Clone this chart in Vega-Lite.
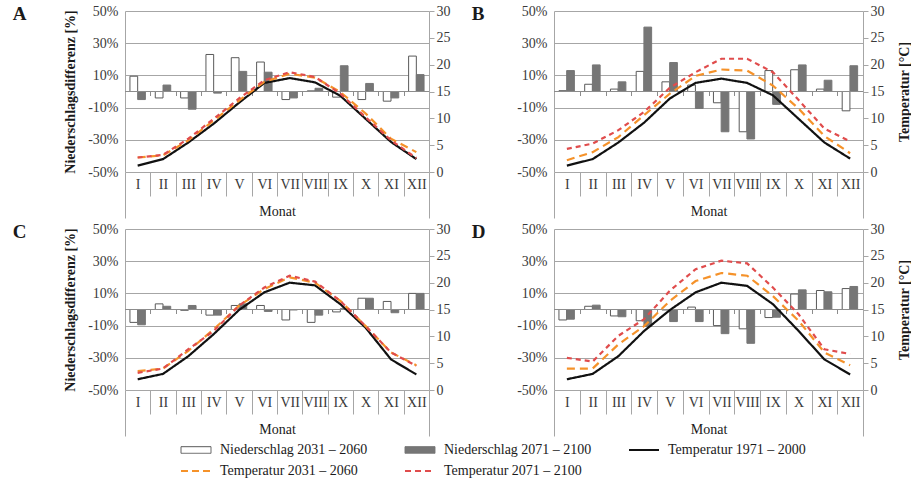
{
  "$schema": "https://vega.github.io/schema/vega-lite/v6.json",
  "padding": {"left": 12, "top": 4, "right": 0, "bottom": 0},
  "config": {
    "font": "Liberation Serif",
    "view": {"stroke": null},
    "axis": {"labelFont": "Liberation Serif", "titleFont": "Liberation Serif", "labelFontSize": 14, "titleFontSize": 14, "labelColor": "#3a3a3a", "titleColor": "#1a1a1a", "domainColor": "#a6a6a6", "gridColor": "#a6a6a6", "tickColor": "#a6a6a6"},
    "axisX": {"tickSize": {"expr": "datum.index === 1 || datum.index < 0 ? 46 : 24"}, "labelPadding": {"expr": "datum.index === 1 ? -41 : -19"}},
    "legend": {"symbolBaseFillColor": {"expr": "datum.value === 'Niederschlag 2031 – 2060' ? '#ffffff' : datum.value === 'Niederschlag 2071 – 2100' ? '#767676' : 'transparent'"}}
  },
  "datasets": {
    "precip": [
      {"panel":"A","month":"I","series":"Niederschlag 2031 – 2060","value":9.5},
      {"panel":"A","month":"II","series":"Niederschlag 2031 – 2060","value":-4},
      {"panel":"A","month":"III","series":"Niederschlag 2031 – 2060","value":-4},
      {"panel":"A","month":"IV","series":"Niederschlag 2031 – 2060","value":23},
      {"panel":"A","month":"V","series":"Niederschlag 2031 – 2060","value":21},
      {"panel":"A","month":"VI","series":"Niederschlag 2031 – 2060","value":18.3},
      {"panel":"A","month":"VII","series":"Niederschlag 2031 – 2060","value":-5},
      {"panel":"A","month":"VIII","series":"Niederschlag 2031 – 2060","value":0.4},
      {"panel":"A","month":"IX","series":"Niederschlag 2031 – 2060","value":-3.5},
      {"panel":"A","month":"X","series":"Niederschlag 2031 – 2060","value":-5},
      {"panel":"A","month":"XI","series":"Niederschlag 2031 – 2060","value":-6},
      {"panel":"A","month":"XII","series":"Niederschlag 2031 – 2060","value":22},
      {"panel":"A","month":"I","series":"Niederschlag 2071 – 2100","value":-5},
      {"panel":"A","month":"II","series":"Niederschlag 2071 – 2100","value":4},
      {"panel":"A","month":"III","series":"Niederschlag 2071 – 2100","value":-11},
      {"panel":"A","month":"IV","series":"Niederschlag 2071 – 2100","value":-1},
      {"panel":"A","month":"V","series":"Niederschlag 2071 – 2100","value":12.5},
      {"panel":"A","month":"VI","series":"Niederschlag 2071 – 2100","value":12},
      {"panel":"A","month":"VII","series":"Niederschlag 2071 – 2100","value":-4},
      {"panel":"A","month":"VIII","series":"Niederschlag 2071 – 2100","value":2},
      {"panel":"A","month":"IX","series":"Niederschlag 2071 – 2100","value":16},
      {"panel":"A","month":"X","series":"Niederschlag 2071 – 2100","value":5},
      {"panel":"A","month":"XI","series":"Niederschlag 2071 – 2100","value":-4},
      {"panel":"A","month":"XII","series":"Niederschlag 2071 – 2100","value":10.5},
      {"panel":"B","month":"I","series":"Niederschlag 2031 – 2060","value":0.5},
      {"panel":"B","month":"II","series":"Niederschlag 2031 – 2060","value":4.5},
      {"panel":"B","month":"III","series":"Niederschlag 2031 – 2060","value":1.5},
      {"panel":"B","month":"IV","series":"Niederschlag 2031 – 2060","value":12.5},
      {"panel":"B","month":"V","series":"Niederschlag 2031 – 2060","value":6},
      {"panel":"B","month":"VI","series":"Niederschlag 2031 – 2060","value":4},
      {"panel":"B","month":"VII","series":"Niederschlag 2031 – 2060","value":-7},
      {"panel":"B","month":"VIII","series":"Niederschlag 2031 – 2060","value":-25},
      {"panel":"B","month":"IX","series":"Niederschlag 2031 – 2060","value":13},
      {"panel":"B","month":"X","series":"Niederschlag 2031 – 2060","value":13.5},
      {"panel":"B","month":"XI","series":"Niederschlag 2031 – 2060","value":1.5},
      {"panel":"B","month":"XII","series":"Niederschlag 2031 – 2060","value":-12},
      {"panel":"B","month":"I","series":"Niederschlag 2071 – 2100","value":13},
      {"panel":"B","month":"II","series":"Niederschlag 2071 – 2100","value":16.5},
      {"panel":"B","month":"III","series":"Niederschlag 2071 – 2100","value":6},
      {"panel":"B","month":"IV","series":"Niederschlag 2071 – 2100","value":40},
      {"panel":"B","month":"V","series":"Niederschlag 2071 – 2100","value":18},
      {"panel":"B","month":"VI","series":"Niederschlag 2071 – 2100","value":-10.5},
      {"panel":"B","month":"VII","series":"Niederschlag 2071 – 2100","value":-25},
      {"panel":"B","month":"VIII","series":"Niederschlag 2071 – 2100","value":-29.5},
      {"panel":"B","month":"IX","series":"Niederschlag 2071 – 2100","value":-8},
      {"panel":"B","month":"X","series":"Niederschlag 2071 – 2100","value":16.5},
      {"panel":"B","month":"XI","series":"Niederschlag 2071 – 2100","value":7},
      {"panel":"B","month":"XII","series":"Niederschlag 2071 – 2100","value":16},
      {"panel":"C","month":"I","series":"Niederschlag 2031 – 2060","value":-8},
      {"panel":"C","month":"II","series":"Niederschlag 2031 – 2060","value":3.5},
      {"panel":"C","month":"III","series":"Niederschlag 2031 – 2060","value":-0.5},
      {"panel":"C","month":"IV","series":"Niederschlag 2031 – 2060","value":-3.5},
      {"panel":"C","month":"V","series":"Niederschlag 2031 – 2060","value":2.5},
      {"panel":"C","month":"VI","series":"Niederschlag 2031 – 2060","value":2.5},
      {"panel":"C","month":"VII","series":"Niederschlag 2031 – 2060","value":-6.5},
      {"panel":"C","month":"VIII","series":"Niederschlag 2031 – 2060","value":-8},
      {"panel":"C","month":"IX","series":"Niederschlag 2031 – 2060","value":-1.5},
      {"panel":"C","month":"X","series":"Niederschlag 2031 – 2060","value":7},
      {"panel":"C","month":"XI","series":"Niederschlag 2031 – 2060","value":5},
      {"panel":"C","month":"XII","series":"Niederschlag 2031 – 2060","value":10},
      {"panel":"C","month":"I","series":"Niederschlag 2071 – 2100","value":-9.5},
      {"panel":"C","month":"II","series":"Niederschlag 2071 – 2100","value":2},
      {"panel":"C","month":"III","series":"Niederschlag 2071 – 2100","value":2.5},
      {"panel":"C","month":"IV","series":"Niederschlag 2071 – 2100","value":-3.5},
      {"panel":"C","month":"V","series":"Niederschlag 2071 – 2100","value":3.5},
      {"panel":"C","month":"VI","series":"Niederschlag 2071 – 2100","value":-1.2},
      {"panel":"C","month":"VII","series":"Niederschlag 2071 – 2100","value":-0.3},
      {"panel":"C","month":"VIII","series":"Niederschlag 2071 – 2100","value":-3.5},
      {"panel":"C","month":"IX","series":"Niederschlag 2071 – 2100","value":0.5},
      {"panel":"C","month":"X","series":"Niederschlag 2071 – 2100","value":7},
      {"panel":"C","month":"XI","series":"Niederschlag 2071 – 2100","value":-2},
      {"panel":"C","month":"XII","series":"Niederschlag 2071 – 2100","value":10},
      {"panel":"D","month":"I","series":"Niederschlag 2031 – 2060","value":-6.5},
      {"panel":"D","month":"II","series":"Niederschlag 2031 – 2060","value":2},
      {"panel":"D","month":"III","series":"Niederschlag 2031 – 2060","value":-4},
      {"panel":"D","month":"IV","series":"Niederschlag 2031 – 2060","value":-7},
      {"panel":"D","month":"V","series":"Niederschlag 2031 – 2060","value":-0.3},
      {"panel":"D","month":"VI","series":"Niederschlag 2031 – 2060","value":1.5},
      {"panel":"D","month":"VII","series":"Niederschlag 2031 – 2060","value":-10},
      {"panel":"D","month":"VIII","series":"Niederschlag 2031 – 2060","value":-12},
      {"panel":"D","month":"IX","series":"Niederschlag 2031 – 2060","value":-5},
      {"panel":"D","month":"X","series":"Niederschlag 2031 – 2060","value":9.6},
      {"panel":"D","month":"XI","series":"Niederschlag 2031 – 2060","value":11.8},
      {"panel":"D","month":"XII","series":"Niederschlag 2031 – 2060","value":13},
      {"panel":"D","month":"I","series":"Niederschlag 2071 – 2100","value":-6},
      {"panel":"D","month":"II","series":"Niederschlag 2071 – 2100","value":2.7},
      {"panel":"D","month":"III","series":"Niederschlag 2071 – 2100","value":-4.5},
      {"panel":"D","month":"IV","series":"Niederschlag 2071 – 2100","value":-10.5},
      {"panel":"D","month":"V","series":"Niederschlag 2071 – 2100","value":-7.5},
      {"panel":"D","month":"VI","series":"Niederschlag 2071 – 2100","value":-7.5},
      {"panel":"D","month":"VII","series":"Niederschlag 2071 – 2100","value":-15},
      {"panel":"D","month":"VIII","series":"Niederschlag 2071 – 2100","value":-21},
      {"panel":"D","month":"IX","series":"Niederschlag 2071 – 2100","value":-4.8},
      {"panel":"D","month":"X","series":"Niederschlag 2071 – 2100","value":12.2},
      {"panel":"D","month":"XI","series":"Niederschlag 2071 – 2100","value":11},
      {"panel":"D","month":"XII","series":"Niederschlag 2071 – 2100","value":14.3}
    ],
    "temp": [
      {"panel":"A","series":"Temperatur 1971 – 2000","month":"I","temp":1.2},
      {"panel":"A","series":"Temperatur 1971 – 2000","month":"II","temp":2.4},
      {"panel":"A","series":"Temperatur 1971 – 2000","month":"III","temp":5.5},
      {"panel":"A","series":"Temperatur 1971 – 2000","month":"IV","temp":9.0},
      {"panel":"A","series":"Temperatur 1971 – 2000","month":"V","temp":12.9},
      {"panel":"A","series":"Temperatur 1971 – 2000","month":"VI","temp":16.6},
      {"panel":"A","series":"Temperatur 1971 – 2000","month":"VII","temp":17.5},
      {"panel":"A","series":"Temperatur 1971 – 2000","month":"VIII","temp":16.7},
      {"panel":"A","series":"Temperatur 1971 – 2000","month":"IX","temp":14.2},
      {"panel":"A","series":"Temperatur 1971 – 2000","month":"X","temp":9.9},
      {"panel":"A","series":"Temperatur 1971 – 2000","month":"XI","temp":5.6},
      {"panel":"A","series":"Temperatur 1971 – 2000","month":"XII","temp":2.4},
      {"panel":"A","series":"Temperatur 2031 – 2060","month":"I","temp":2.7},
      {"panel":"A","series":"Temperatur 2031 – 2060","month":"II","temp":3.1},
      {"panel":"A","series":"Temperatur 2031 – 2060","month":"III","temp":5.9},
      {"panel":"A","series":"Temperatur 2031 – 2060","month":"IV","temp":9.6},
      {"panel":"A","series":"Temperatur 2031 – 2060","month":"V","temp":13.3},
      {"panel":"A","series":"Temperatur 2031 – 2060","month":"VI","temp":16.8},
      {"panel":"A","series":"Temperatur 2031 – 2060","month":"VII","temp":18.3},
      {"panel":"A","series":"Temperatur 2031 – 2060","month":"VIII","temp":17.6},
      {"panel":"A","series":"Temperatur 2031 – 2060","month":"IX","temp":14.9},
      {"panel":"A","series":"Temperatur 2031 – 2060","month":"X","temp":10.9},
      {"panel":"A","series":"Temperatur 2031 – 2060","month":"XI","temp":6.2},
      {"panel":"A","series":"Temperatur 2031 – 2060","month":"XII","temp":3.7},
      {"panel":"A","series":"Temperatur 2071 – 2100","month":"I","temp":2.7},
      {"panel":"A","series":"Temperatur 2071 – 2100","month":"II","temp":3.2},
      {"panel":"A","series":"Temperatur 2071 – 2100","month":"III","temp":6.2},
      {"panel":"A","series":"Temperatur 2071 – 2100","month":"IV","temp":9.9},
      {"panel":"A","series":"Temperatur 2071 – 2100","month":"V","temp":13.7},
      {"panel":"A","series":"Temperatur 2071 – 2100","month":"VI","temp":17.1},
      {"panel":"A","series":"Temperatur 2071 – 2100","month":"VII","temp":18.6},
      {"panel":"A","series":"Temperatur 2071 – 2100","month":"VIII","temp":17.7},
      {"panel":"A","series":"Temperatur 2071 – 2100","month":"IX","temp":14.6},
      {"panel":"A","series":"Temperatur 2071 – 2100","month":"X","temp":10.2},
      {"panel":"A","series":"Temperatur 2071 – 2100","month":"XI","temp":5.9},
      {"panel":"A","series":"Temperatur 2071 – 2100","month":"XII","temp":2.6},
      {"panel":"B","series":"Temperatur 1971 – 2000","month":"I","temp":1.2},
      {"panel":"B","series":"Temperatur 1971 – 2000","month":"II","temp":2.4},
      {"panel":"B","series":"Temperatur 1971 – 2000","month":"III","temp":5.5},
      {"panel":"B","series":"Temperatur 1971 – 2000","month":"IV","temp":9.2},
      {"panel":"B","series":"Temperatur 1971 – 2000","month":"V","temp":13.7},
      {"panel":"B","series":"Temperatur 1971 – 2000","month":"VI","temp":16.6},
      {"panel":"B","series":"Temperatur 1971 – 2000","month":"VII","temp":17.4},
      {"panel":"B","series":"Temperatur 1971 – 2000","month":"VIII","temp":16.6},
      {"panel":"B","series":"Temperatur 1971 – 2000","month":"IX","temp":14.3},
      {"panel":"B","series":"Temperatur 1971 – 2000","month":"X","temp":9.9},
      {"panel":"B","series":"Temperatur 1971 – 2000","month":"XI","temp":5.5},
      {"panel":"B","series":"Temperatur 1971 – 2000","month":"XII","temp":2.5},
      {"panel":"B","series":"Temperatur 2031 – 2060","month":"I","temp":2.2},
      {"panel":"B","series":"Temperatur 2031 – 2060","month":"II","temp":3.7},
      {"panel":"B","series":"Temperatur 2031 – 2060","month":"III","temp":6.5},
      {"panel":"B","series":"Temperatur 2031 – 2060","month":"IV","temp":10.6},
      {"panel":"B","series":"Temperatur 2031 – 2060","month":"V","temp":14.6},
      {"panel":"B","series":"Temperatur 2031 – 2060","month":"VI","temp":17.9},
      {"panel":"B","series":"Temperatur 2031 – 2060","month":"VII","temp":19.1},
      {"panel":"B","series":"Temperatur 2031 – 2060","month":"VIII","temp":18.9},
      {"panel":"B","series":"Temperatur 2031 – 2060","month":"IX","temp":16.1},
      {"panel":"B","series":"Temperatur 2031 – 2060","month":"X","temp":11.8},
      {"panel":"B","series":"Temperatur 2031 – 2060","month":"XI","temp":6.7},
      {"panel":"B","series":"Temperatur 2031 – 2060","month":"XII","temp":3.5},
      {"panel":"B","series":"Temperatur 2071 – 2100","month":"I","temp":4.3},
      {"panel":"B","series":"Temperatur 2071 – 2100","month":"II","temp":5.3},
      {"panel":"B","series":"Temperatur 2071 – 2100","month":"III","temp":7.8},
      {"panel":"B","series":"Temperatur 2071 – 2100","month":"IV","temp":11.2},
      {"panel":"B","series":"Temperatur 2071 – 2100","month":"V","temp":15.7},
      {"panel":"B","series":"Temperatur 2071 – 2100","month":"VI","temp":18.6},
      {"panel":"B","series":"Temperatur 2071 – 2100","month":"VII","temp":21.1},
      {"panel":"B","series":"Temperatur 2071 – 2100","month":"VIII","temp":21.1},
      {"panel":"B","series":"Temperatur 2071 – 2100","month":"IX","temp":18.6},
      {"panel":"B","series":"Temperatur 2071 – 2100","month":"X","temp":13.4},
      {"panel":"B","series":"Temperatur 2071 – 2100","month":"XI","temp":8.1},
      {"panel":"B","series":"Temperatur 2071 – 2100","month":"XII","temp":5.7},
      {"panel":"C","series":"Temperatur 1971 – 2000","month":"I","temp":2.0},
      {"panel":"C","series":"Temperatur 1971 – 2000","month":"II","temp":3.0},
      {"panel":"C","series":"Temperatur 1971 – 2000","month":"III","temp":6.3},
      {"panel":"C","series":"Temperatur 1971 – 2000","month":"IV","temp":10.4},
      {"panel":"C","series":"Temperatur 1971 – 2000","month":"V","temp":14.9},
      {"panel":"C","series":"Temperatur 1971 – 2000","month":"VI","temp":18.2},
      {"panel":"C","series":"Temperatur 1971 – 2000","month":"VII","temp":20.0},
      {"panel":"C","series":"Temperatur 1971 – 2000","month":"VIII","temp":19.5},
      {"panel":"C","series":"Temperatur 1971 – 2000","month":"IX","temp":16.0},
      {"panel":"C","series":"Temperatur 1971 – 2000","month":"X","temp":11.6},
      {"panel":"C","series":"Temperatur 1971 – 2000","month":"XI","temp":5.7},
      {"panel":"C","series":"Temperatur 1971 – 2000","month":"XII","temp":2.9},
      {"panel":"C","series":"Temperatur 2031 – 2060","month":"I","temp":3.5},
      {"panel":"C","series":"Temperatur 2031 – 2060","month":"II","temp":4.0},
      {"panel":"C","series":"Temperatur 2031 – 2060","month":"III","temp":7.3},
      {"panel":"C","series":"Temperatur 2031 – 2060","month":"IV","temp":11.3},
      {"panel":"C","series":"Temperatur 2031 – 2060","month":"V","temp":15.7},
      {"panel":"C","series":"Temperatur 2031 – 2060","month":"VI","temp":18.8},
      {"panel":"C","series":"Temperatur 2031 – 2060","month":"VII","temp":21.0},
      {"panel":"C","series":"Temperatur 2031 – 2060","month":"VIII","temp":20.0},
      {"panel":"C","series":"Temperatur 2031 – 2060","month":"IX","temp":16.6},
      {"panel":"C","series":"Temperatur 2031 – 2060","month":"X","temp":11.9},
      {"panel":"C","series":"Temperatur 2031 – 2060","month":"XI","temp":7.0},
      {"panel":"C","series":"Temperatur 2031 – 2060","month":"XII","temp":4.6},
      {"panel":"C","series":"Temperatur 2071 – 2100","month":"I","temp":3.2},
      {"panel":"C","series":"Temperatur 2071 – 2100","month":"II","temp":4.0},
      {"panel":"C","series":"Temperatur 2071 – 2100","month":"III","temp":7.6},
      {"panel":"C","series":"Temperatur 2071 – 2100","month":"IV","temp":11.0},
      {"panel":"C","series":"Temperatur 2071 – 2100","month":"V","temp":15.7},
      {"panel":"C","series":"Temperatur 2071 – 2100","month":"VI","temp":19.1},
      {"panel":"C","series":"Temperatur 2071 – 2100","month":"VII","temp":21.3},
      {"panel":"C","series":"Temperatur 2071 – 2100","month":"VIII","temp":20.2},
      {"panel":"C","series":"Temperatur 2071 – 2100","month":"IX","temp":16.6},
      {"panel":"C","series":"Temperatur 2071 – 2100","month":"X","temp":11.9},
      {"panel":"C","series":"Temperatur 2071 – 2100","month":"XI","temp":7.0},
      {"panel":"C","series":"Temperatur 2071 – 2100","month":"XII","temp":4.5},
      {"panel":"D","series":"Temperatur 1971 – 2000","month":"I","temp":2.0},
      {"panel":"D","series":"Temperatur 1971 – 2000","month":"II","temp":3.0},
      {"panel":"D","series":"Temperatur 1971 – 2000","month":"III","temp":6.3},
      {"panel":"D","series":"Temperatur 1971 – 2000","month":"IV","temp":11.0},
      {"panel":"D","series":"Temperatur 1971 – 2000","month":"V","temp":14.9},
      {"panel":"D","series":"Temperatur 1971 – 2000","month":"VI","temp":18.2},
      {"panel":"D","series":"Temperatur 1971 – 2000","month":"VII","temp":20.0},
      {"panel":"D","series":"Temperatur 1971 – 2000","month":"VIII","temp":19.4},
      {"panel":"D","series":"Temperatur 1971 – 2000","month":"IX","temp":16.0},
      {"panel":"D","series":"Temperatur 1971 – 2000","month":"X","temp":11.0},
      {"panel":"D","series":"Temperatur 1971 – 2000","month":"XI","temp":5.7},
      {"panel":"D","series":"Temperatur 1971 – 2000","month":"XII","temp":2.9},
      {"panel":"D","series":"Temperatur 2031 – 2060","month":"I","temp":4.0},
      {"panel":"D","series":"Temperatur 2031 – 2060","month":"II","temp":4.0},
      {"panel":"D","series":"Temperatur 2031 – 2060","month":"III","temp":8.5},
      {"panel":"D","series":"Temperatur 2031 – 2060","month":"IV","temp":11.9},
      {"panel":"D","series":"Temperatur 2031 – 2060","month":"V","temp":16.6},
      {"panel":"D","series":"Temperatur 2031 – 2060","month":"VI","temp":20.3},
      {"panel":"D","series":"Temperatur 2031 – 2060","month":"VII","temp":21.8},
      {"panel":"D","series":"Temperatur 2031 – 2060","month":"VIII","temp":21.3},
      {"panel":"D","series":"Temperatur 2031 – 2060","month":"IX","temp":17.5},
      {"panel":"D","series":"Temperatur 2031 – 2060","month":"X","temp":12.9},
      {"panel":"D","series":"Temperatur 2031 – 2060","month":"XI","temp":7.0},
      {"panel":"D","series":"Temperatur 2031 – 2060","month":"XII","temp":4.6},
      {"panel":"D","series":"Temperatur 2071 – 2100","month":"I","temp":6.0},
      {"panel":"D","series":"Temperatur 2071 – 2100","month":"II","temp":5.3},
      {"panel":"D","series":"Temperatur 2071 – 2100","month":"III","temp":10.1},
      {"panel":"D","series":"Temperatur 2071 – 2100","month":"IV","temp":13.2},
      {"panel":"D","series":"Temperatur 2071 – 2100","month":"V","temp":18.5},
      {"panel":"D","series":"Temperatur 2071 – 2100","month":"VI","temp":22.5},
      {"panel":"D","series":"Temperatur 2071 – 2100","month":"VII","temp":24.1},
      {"panel":"D","series":"Temperatur 2071 – 2100","month":"VIII","temp":23.6},
      {"panel":"D","series":"Temperatur 2071 – 2100","month":"IX","temp":19.1},
      {"panel":"D","series":"Temperatur 2071 – 2100","month":"X","temp":14.1},
      {"panel":"D","series":"Temperatur 2071 – 2100","month":"XI","temp":7.6},
      {"panel":"D","series":"Temperatur 2071 – 2100","month":"XII","temp":6.7}
    ]
  },
  "vconcat": [
    {
      "hconcat": [
        {
          "width": 304, "height": 161,
          "title": {"text": "A", "anchor": "start", "frame": "bounds", "dx": -51, "dy": 20, "offset": 0, "fontSize": 19, "fontWeight": "bold", "font": "Liberation Serif", "color": "#1a1a1a"},
          "layer": [
            {"layer": [
              {"data": {"name": "precip"}, "transform": [{"filter": "datum.panel === 'A'"}],
               "mark": {"type": "bar", "strokeWidth": 1},
               "encoding": {
                 "x": {"field": "month", "type": "nominal", "sort": ["I","II","III","IV","V","VI","VII","VIII","IX","X","XI","XII"], "scale": {"paddingInner": 0, "paddingOuter": 0},
                       "axis": {"title": "Monat", "titleFontWeight": "normal", "titlePadding": -14, "labelAngle": 0, "labelOverlap": false, "tickBand": "extent", "domain": false}},
                 "xOffset": {"field": "series", "type": "nominal", "sort": ["Niederschlag 2031 – 2060", "Niederschlag 2071 – 2100"], "scale": {"paddingInner": 0, "paddingOuter": 0.64}},
                 "y": {"field": "value", "type": "quantitative", "scale": {"domain": [-50, 50], "nice": false},
                       "axis": {"values": [-50, -30, -10, 10, 30, 50], "tickCount": 10, "labelExpr": "datum.value + '%'", "grid": true, "ticks": false, "labelPadding": 7, "title": "Niederschlagsdifferenz [%]", "titleFontWeight": "bold", "titlePadding": 10}},
                 "fill": {"field": "series", "type": "nominal", "scale": {"domain": ["Niederschlag 2031 – 2060", "Niederschlag 2071 – 2100"], "range": ["#ffffff", "#767676"]}, "legend": null},
                 "stroke": {"field": "series", "type": "nominal",
                   "scale": {"domain": ["Niederschlag 2031 – 2060", "Niederschlag 2071 – 2100", "Temperatur 1971 – 2000", "Temperatur 2031 – 2060", "Temperatur 2071 – 2100"], "range": ["#595959", "#767676", "#111111", "#f5922a", "#e04c4c"]},
                   "legend": {"title": null, "orient": "none", "legendX": 64, "legendY": 432, "direction": "horizontal", "columns": 3, "columnPadding": 32, "rowPadding": 7, "padding": 0, "symbolSize": 900, "labelFont": "Liberation Serif", "labelFontSize": 14, "labelColor": "#1a1a1a", "labelOffset": 17, "labelLimit": 400,
                     "symbolType": {"expr": "test(/^Nieder/, datum.value) ? 'M-1,-0.22H1V0.22H-1Z' : 'stroke'"},
                     "symbolFillColor": {"expr": "datum.value === 'Niederschlag 2031 – 2060' ? '#ffffff' : datum.value === 'Niederschlag 2071 – 2100' ? '#767676' : 'transparent'"},
                     "symbolDash": {"expr": "datum.value === 'Temperatur 2031 – 2060' ? [7,4] : datum.value === 'Temperatur 2071 – 2100' ? [6,4] : [1,0]"},
                     "symbolStrokeWidth": {"expr": "test(/^Nieder/, datum.value) ? 1 : 2.2"}
                   }}
               }},
              {"data": {"values": [{}]}, "mark": {"type": "rule", "color": "#8c8c8c", "strokeWidth": 1}, "encoding": {"y": {"datum": 0}}}
            ]},
            {"data": {"name": "temp"}, "transform": [{"filter": "datum.panel === 'A'"}],
             "mark": {"type": "line", "strokeWidth": 2.2},
             "encoding": {
               "x": {"field": "month", "type": "nominal", "sort": ["I","II","III","IV","V","VI","VII","VIII","IX","X","XI","XII"], "axis": {"orient": "bottom", "offset": -80.5, "tickBand": "extent", "tickSize": 4, "labels": false, "title": null, "domain": false, "grid": false, "tickColor": "#8c8c8c"}},
               "y": {"field": "temp", "type": "quantitative", "scale": {"domain": [0, 30], "nice": false}, "axis": {"orient": "right", "values": [0, 5, 10, 15, 20, 25, 30], "tickCount": 10, "tickSize": 5, "labelPadding": 2, "grid": false, "title": null}},
               "stroke": {"field": "series", "type": "nominal"},
               "strokeDash": {"field": "series", "type": "nominal", "scale": {"domain": ["Temperatur 1971 – 2000", "Temperatur 2031 – 2060", "Temperatur 2071 – 2100"], "range": [[1, 0], [8, 5], [5, 4]]}, "legend": null},
               "order": {"value": null}
             }}
          ],
          "resolve": {"scale": {"y": "independent"}, "axis": {"x": "independent"}}
        },
        {
          "width": 309, "height": 161,
          "title": {"text": "B", "anchor": "start", "frame": "bounds", "dx": -45, "dy": 20, "offset": 0, "fontSize": 19, "fontWeight": "bold", "font": "Liberation Serif", "color": "#1a1a1a"},
          "layer": [
            {"layer": [
              {"data": {"name": "precip"}, "transform": [{"filter": "datum.panel === 'B'"}],
               "mark": {"type": "bar", "strokeWidth": 1},
               "encoding": {
                 "x": {"field": "month", "type": "nominal", "sort": ["I","II","III","IV","V","VI","VII","VIII","IX","X","XI","XII"], "scale": {"paddingInner": 0, "paddingOuter": 0},
                       "axis": {"title": "Monat", "titleFontWeight": "normal", "titlePadding": -14, "labelAngle": 0, "labelOverlap": false, "tickBand": "extent", "domain": false}},
                 "xOffset": {"field": "series", "type": "nominal", "sort": ["Niederschlag 2031 – 2060", "Niederschlag 2071 – 2100"], "scale": {"paddingInner": 0, "paddingOuter": 0.64}},
                 "y": {"field": "value", "type": "quantitative", "scale": {"domain": [-50, 50], "nice": false},
                       "axis": {"values": [-50, -30, -10, 10, 30, 50], "tickCount": 10, "labelExpr": "datum.value + '%'", "grid": true, "ticks": false, "labelPadding": 7, "title": null}},
                 "fill": {"field": "series", "type": "nominal", "scale": {"domain": ["Niederschlag 2031 – 2060", "Niederschlag 2071 – 2100"], "range": ["#ffffff", "#767676"]}, "legend": null},
                 "stroke": {"field": "series", "type": "nominal"}
               }},
              {"data": {"values": [{}]}, "mark": {"type": "rule", "color": "#8c8c8c", "strokeWidth": 1}, "encoding": {"y": {"datum": 0}}}
            ]},
            {"data": {"name": "temp"}, "transform": [{"filter": "datum.panel === 'B'"}],
             "mark": {"type": "line", "strokeWidth": 2.2},
             "encoding": {
               "x": {"field": "month", "type": "nominal", "sort": ["I","II","III","IV","V","VI","VII","VIII","IX","X","XI","XII"], "axis": {"orient": "bottom", "offset": -80.5, "tickBand": "extent", "tickSize": 4, "labels": false, "title": null, "domain": false, "grid": false, "tickColor": "#8c8c8c"}},
               "y": {"field": "temp", "type": "quantitative", "scale": {"domain": [0, 30], "nice": false}, "axis": {"orient": "right", "values": [0, 5, 10, 15, 20, 25, 30], "tickCount": 10, "tickSize": 5, "labelPadding": 2, "grid": false, "title": "Temperatur [°C]", "titleFontWeight": "bold", "titleAngle": 270, "titleBaseline": "top", "titlePadding": 13}},
               "stroke": {"field": "series", "type": "nominal"},
               "strokeDash": {"field": "series", "type": "nominal", "scale": {"domain": ["Temperatur 1971 – 2000", "Temperatur 2031 – 2060", "Temperatur 2071 – 2100"], "range": [[1, 0], [8, 5], [5, 4]]}, "legend": null},
               "order": {"value": null}
             }}
          ],
          "resolve": {"scale": {"y": "independent"}, "axis": {"x": "independent"}}
        }
      ],
      "spacing": 21
    },
    {
      "hconcat": [
        {
          "width": 304, "height": 161,
          "title": {"text": "C", "anchor": "start", "frame": "bounds", "dx": -51, "dy": 20, "offset": 0, "fontSize": 19, "fontWeight": "bold", "font": "Liberation Serif", "color": "#1a1a1a"},
          "layer": [
            {"layer": [
              {"data": {"name": "precip"}, "transform": [{"filter": "datum.panel === 'C'"}],
               "mark": {"type": "bar", "strokeWidth": 1},
               "encoding": {
                 "x": {"field": "month", "type": "nominal", "sort": ["I","II","III","IV","V","VI","VII","VIII","IX","X","XI","XII"], "scale": {"paddingInner": 0, "paddingOuter": 0},
                       "axis": {"title": "Monat", "titleFontWeight": "normal", "titlePadding": -14, "labelAngle": 0, "labelOverlap": false, "tickBand": "extent", "domain": false}},
                 "xOffset": {"field": "series", "type": "nominal", "sort": ["Niederschlag 2031 – 2060", "Niederschlag 2071 – 2100"], "scale": {"paddingInner": 0, "paddingOuter": 0.64}},
                 "y": {"field": "value", "type": "quantitative", "scale": {"domain": [-50, 50], "nice": false},
                       "axis": {"values": [-50, -30, -10, 10, 30, 50], "tickCount": 10, "labelExpr": "datum.value + '%'", "grid": true, "ticks": false, "labelPadding": 7, "title": "Niederschlagsdifferenz [%]", "titleFontWeight": "bold", "titlePadding": 10}},
                 "fill": {"field": "series", "type": "nominal", "scale": {"domain": ["Niederschlag 2031 – 2060", "Niederschlag 2071 – 2100"], "range": ["#ffffff", "#767676"]}, "legend": null},
                 "stroke": {"field": "series", "type": "nominal"}
               }},
              {"data": {"values": [{}]}, "mark": {"type": "rule", "color": "#8c8c8c", "strokeWidth": 1}, "encoding": {"y": {"datum": 0}}}
            ]},
            {"data": {"name": "temp"}, "transform": [{"filter": "datum.panel === 'C'"}],
             "mark": {"type": "line", "strokeWidth": 2.2},
             "encoding": {
               "x": {"field": "month", "type": "nominal", "sort": ["I","II","III","IV","V","VI","VII","VIII","IX","X","XI","XII"], "axis": {"orient": "bottom", "offset": -80.5, "tickBand": "extent", "tickSize": 4, "labels": false, "title": null, "domain": false, "grid": false, "tickColor": "#8c8c8c"}},
               "y": {"field": "temp", "type": "quantitative", "scale": {"domain": [0, 30], "nice": false}, "axis": {"orient": "right", "values": [0, 5, 10, 15, 20, 25, 30], "tickCount": 10, "tickSize": 5, "labelPadding": 2, "grid": false, "title": null}},
               "stroke": {"field": "series", "type": "nominal"},
               "strokeDash": {"field": "series", "type": "nominal", "scale": {"domain": ["Temperatur 1971 – 2000", "Temperatur 2031 – 2060", "Temperatur 2071 – 2100"], "range": [[1, 0], [8, 5], [5, 4]]}, "legend": null},
               "order": {"value": null}
             }}
          ],
          "resolve": {"scale": {"y": "independent"}, "axis": {"x": "independent"}}
        },
        {
          "width": 309, "height": 161,
          "title": {"text": "D", "anchor": "start", "frame": "bounds", "dx": -45, "dy": 20, "offset": 0, "fontSize": 19, "fontWeight": "bold", "font": "Liberation Serif", "color": "#1a1a1a"},
          "layer": [
            {"layer": [
              {"data": {"name": "precip"}, "transform": [{"filter": "datum.panel === 'D'"}],
               "mark": {"type": "bar", "strokeWidth": 1},
               "encoding": {
                 "x": {"field": "month", "type": "nominal", "sort": ["I","II","III","IV","V","VI","VII","VIII","IX","X","XI","XII"], "scale": {"paddingInner": 0, "paddingOuter": 0},
                       "axis": {"title": "Monat", "titleFontWeight": "normal", "titlePadding": -14, "labelAngle": 0, "labelOverlap": false, "tickBand": "extent", "domain": false}},
                 "xOffset": {"field": "series", "type": "nominal", "sort": ["Niederschlag 2031 – 2060", "Niederschlag 2071 – 2100"], "scale": {"paddingInner": 0, "paddingOuter": 0.64}},
                 "y": {"field": "value", "type": "quantitative", "scale": {"domain": [-50, 50], "nice": false},
                       "axis": {"values": [-50, -30, -10, 10, 30, 50], "tickCount": 10, "labelExpr": "datum.value + '%'", "grid": true, "ticks": false, "labelPadding": 7, "title": null}},
                 "fill": {"field": "series", "type": "nominal", "scale": {"domain": ["Niederschlag 2031 – 2060", "Niederschlag 2071 – 2100"], "range": ["#ffffff", "#767676"]}, "legend": null},
                 "stroke": {"field": "series", "type": "nominal"}
               }},
              {"data": {"values": [{}]}, "mark": {"type": "rule", "color": "#8c8c8c", "strokeWidth": 1}, "encoding": {"y": {"datum": 0}}}
            ]},
            {"data": {"name": "temp"}, "transform": [{"filter": "datum.panel === 'D'"}],
             "mark": {"type": "line", "strokeWidth": 2.2},
             "encoding": {
               "x": {"field": "month", "type": "nominal", "sort": ["I","II","III","IV","V","VI","VII","VIII","IX","X","XI","XII"], "axis": {"orient": "bottom", "offset": -80.5, "tickBand": "extent", "tickSize": 4, "labels": false, "title": null, "domain": false, "grid": false, "tickColor": "#8c8c8c"}},
               "y": {"field": "temp", "type": "quantitative", "scale": {"domain": [0, 30], "nice": false}, "axis": {"orient": "right", "values": [0, 5, 10, 15, 20, 25, 30], "tickCount": 10, "tickSize": 5, "labelPadding": 2, "grid": false, "title": "Temperatur [°C]", "titleFontWeight": "bold", "titleAngle": 270, "titleBaseline": "top", "titlePadding": 13}},
               "stroke": {"field": "series", "type": "nominal"},
               "strokeDash": {"field": "series", "type": "nominal", "scale": {"domain": ["Temperatur 1971 – 2000", "Temperatur 2031 – 2060", "Temperatur 2071 – 2100"], "range": [[1, 0], [8, 5], [5, 4]]}, "legend": null},
               "order": {"value": null}
             }}
          ],
          "resolve": {"scale": {"y": "independent"}, "axis": {"x": "independent"}}
        }
      ],
      "spacing": 21
    }
  ],
  "spacing": 3,
  "resolve": {"scale": {"stroke": "shared", "fill": "shared", "strokeDash": "shared"}}
}
